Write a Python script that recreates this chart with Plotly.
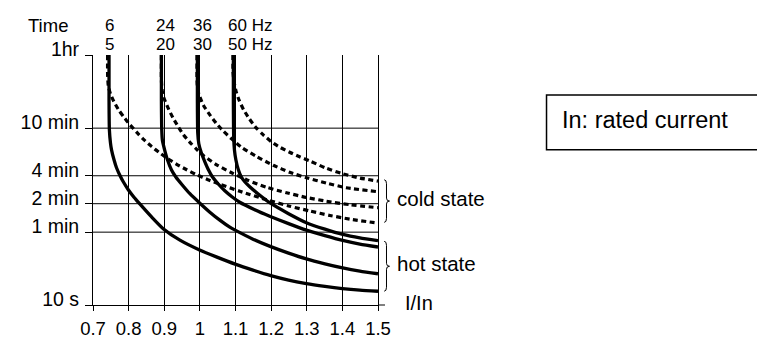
import plotly.graph_objects as go

# ---------------- data ----------------
X_TICKS = [0.7, 0.8, 0.9, 1.0, 1.1, 1.2, 1.3, 1.4, 1.5]
X_TICK_TEXT = ["0.7", "0.8", "0.9", "1", "1.1", "1.2", "1.3", "1.4", "1.5"]
# y axis is a schematic (non-uniform) time scale; values are chart positions
Y_TICKS = [0, 73, 101.5, 129.5, 177.2, 250.5]
Y_TICK_TEXT = ["10 s", "1 min", "2 min", "4 min", "10 min", "1hr"]

FREQ_60HZ = ["6", "24", "36", "60 Hz"]
FREQ_50HZ = ["5", "20", "30", "50 Hz"]

# hot state (solid) curves
HOT_5HZ_X = [0.745, 0.745, 0.746, 0.749, 0.752, 0.759, 0.766, 0.776, 0.785, 0.799, 0.815, 0.832,
             0.865, 0.897, 0.944, 0.999, 1.048, 1.099, 1.149, 1.199, 1.249, 1.299, 1.351, 1.400, 1.449, 1.5]
HOT_5HZ_Y = [250.5, 205.5, 175.5, 162.5, 155.5, 145.5, 137.5, 129.5, 123.5, 115.5, 108.0, 101.0,
             88.0, 76.5, 65.0, 55.2, 48.0, 41.0, 35.0, 29.5, 25.0, 21.5, 18.7, 16.5, 14.9, 13.8]

HOT_20HZ_X = [0.892, 0.892, 0.893, 0.895, 0.901, 0.909, 0.920, 0.933, 0.950, 0.972, 1.000, 1.028,
              1.056, 1.084, 1.099, 1.149, 1.199, 1.249, 1.299, 1.351, 1.401, 1.449, 1.5]
HOT_20HZ_Y = [250.5, 205.5, 175.5, 164.5, 155.5, 145.5, 135.5, 128.0, 120.5, 111.5, 102.0, 93.0,
              85.0, 78.0, 75.0, 66.0, 58.5, 52.0, 46.2, 41.3, 37.2, 34.0, 31.3]

HOT_30HZ_X = [0.993, 0.993, 0.994, 0.997, 1.004, 1.014, 1.024, 1.035, 1.051, 1.070, 1.090, 1.112,
              1.154, 1.196, 1.249, 1.299, 1.351, 1.401, 1.449, 1.5]
HOT_30HZ_Y = [250.5, 205.5, 172.5, 161.5, 152.5, 143.5, 135.5, 128.5, 121.5, 114.5, 108.5, 103.0,
              95.5, 89.0, 81.5, 75.0, 69.5, 64.7, 61.0, 58.1]

HOT_50HZ_X = [1.094, 1.094, 1.095, 1.097, 1.101, 1.108, 1.116, 1.126, 1.140, 1.163, 1.196, 1.249,
              1.299, 1.351, 1.401, 1.449, 1.5]
HOT_50HZ_Y = [250.5, 205.5, 167.5, 155.5, 145.5, 135.5, 128.5, 123.5, 118.5, 111.5, 102.5, 91.5,
              82.5, 76.0, 70.7, 67.2, 64.5]

# cold state (dotted) curves
COLD_5HZ_X = [0.741, 0.741, 0.743, 0.749, 0.759, 0.772, 0.786, 0.804, 0.823, 0.841, 0.865, 0.888,
              0.911, 0.935, 0.963, 0.991, 1.023, 1.056, 1.112, 1.187, 1.252, 1.309, 1.365, 1.421, 1.5]
COLD_5HZ_Y = [250.5, 230.5, 219.5, 211.5, 203.5, 195.5, 188.5, 180.5, 173.0, 166.2, 158.7, 152.2,
              146.3, 141.0, 135.5, 130.5, 125.5, 121.0, 114.0, 105.5, 99.0, 94.2, 89.7, 86.0, 82.0]

COLD_20HZ_X = [0.892, 0.892, 0.894, 0.898, 0.911, 0.925, 0.939, 0.953, 0.972, 0.991, 1.009, 1.047,
               1.089, 1.131, 1.187, 1.243, 1.299, 1.355, 1.421, 1.5]
COLD_20HZ_Y = [250.5, 225.5, 215.5, 208.5, 197.2, 187.2, 178.8, 171.0, 163.0, 156.0, 150.0, 140.5,
               132.5, 125.5, 118.0, 112.5, 107.7, 104.0, 100.5, 97.5]

COLD_30HZ_X = [0.992, 0.992, 0.994, 1.000, 1.011, 1.028, 1.045, 1.065, 1.089, 1.117, 1.159, 1.206,
               1.252, 1.299, 1.355, 1.411, 1.5]
COLD_30HZ_Y = [250.5, 225.5, 215.5, 208.5, 199.5, 190.5, 182.5, 174.5, 166.5, 158.0, 148.8, 140.0,
               133.0, 127.5, 122.2, 117.5, 113.5]

COLD_50HZ_X = [1.093, 1.093, 1.096, 1.102, 1.111, 1.123, 1.139, 1.158, 1.178, 1.201, 1.224, 1.252,
               1.280, 1.309, 1.355, 1.401, 1.449, 1.5]
COLD_50HZ_Y = [250.5, 233.5, 223.5, 213.5, 204.5, 195.5, 186.5, 177.5, 170.5, 163.5, 158.2, 153.0,
               148.5, 144.3, 137.0, 131.5, 127.2, 124.2]

# ---------------- layout geometry (pixels) ----------------
W, H = 757, 339
ML, MT = 93, 55
PW, PH = 285.3, 250.5
MR = W - ML - PW
MB = H - MT - PH
FONT = "Liberation Sans, Arial, sans-serif"


def px(xp):
    return (xp - ML) / PW


def py(yp):
    return (MT + PH - yp) / PH


fig = go.Figure()

hot = [(HOT_5HZ_X, HOT_5HZ_Y), (HOT_20HZ_X, HOT_20HZ_Y), (HOT_30HZ_X, HOT_30HZ_Y), (HOT_50HZ_X, HOT_50HZ_Y)]
cold = [(COLD_5HZ_X, COLD_5HZ_Y), (COLD_20HZ_X, COLD_20HZ_Y), (COLD_30HZ_X, COLD_30HZ_Y), (COLD_50HZ_X, COLD_50HZ_Y)]

for xs, ys in cold:
    fig.add_trace(go.Scatter(x=xs, y=ys, mode="lines", hoverinfo="skip",
                             line=dict(color="black", width=3.2, dash="5px,3.5px", shape="spline", smoothing=0.6)))
for xs, ys in hot:
    fig.add_trace(go.Scatter(x=xs, y=ys, mode="lines", hoverinfo="skip",
                             line=dict(color="black", width=3.3, shape="spline", smoothing=0.6)))

shapes = []
# horizontal grid lines (not at the top)
for v in Y_TICKS[1:-1]:
    shapes.append(dict(type="line", xref="x", yref="y", x0=X_TICKS[0], x1=X_TICKS[-1], y0=v, y1=v,
                       line=dict(color="black", width=1), layer="below"))
# extension of bottom axis line past 1.5
shapes.append(dict(type="line", xref="paper", yref="paper", x0=1, x1=px(ML + PW + 7), y0=0, y1=0,
                   line=dict(color="black", width=1)))


def brace(top, bot, xl, xs, xt):
    mid = (top + bot) / 2
    return ("M {a},{b} Q {c},{b} {c},{d} L {c},{e} Q {c},{f} {g},{f} "
            "Q {c},{f} {c},{h} L {c},{i} Q {c},{j} {a},{j}").format(
        a=px(xl), b=py(top), c=px(xs), d=py(top + 4), e=py(mid - 3), f=py(mid),
        g=px(xt), h=py(mid + 3), i=py(bot - 4), j=py(bot))


shapes.append(dict(type="path", xref="paper", yref="paper", path=brace(180, 222.7, 384.5, 386.8, 389.8),
                   line=dict(color="black", width=1)))
shapes.append(dict(type="path", xref="paper", yref="paper", path=brace(241.7, 291.7, 384.5, 386.8, 389.8),
                   line=dict(color="black", width=1)))
# legend box
shapes.append(dict(type="rect", xref="paper", yref="paper", x0=px(547), x1=px(800), y0=py(150), y1=py(95),
                   line=dict(color="black", width=1.5), fillcolor="rgba(0,0,0,0)"))

annotations = []
TOP_ROW, BOT_ROW = 25.4, 44.6
annotations.append(dict(text="Time", xref="paper", yref="paper", x=px(69), y=py(TOP_ROW), xanchor="right",
                        yanchor="middle", showarrow=False, borderpad=0, font=dict(size=18.5)))
freq_anchor_x = [0.745, 0.904, 1.006, 1.075]
freq_anchor = ["center", "center", "center", "left"]
for t60, t50, xv, xa in zip(FREQ_60HZ, FREQ_50HZ, freq_anchor_x, freq_anchor):
    annotations.append(dict(text=t60, xref="x", yref="paper", x=xv, y=py(TOP_ROW), xanchor=xa, yanchor="middle",
                            showarrow=False, borderpad=0, font=dict(size=17)))
    annotations.append(dict(text=t50, xref="x", yref="paper", x=xv, y=py(BOT_ROW), xanchor=xa, yanchor="middle",
                            showarrow=False, borderpad=0, font=dict(size=17)))
annotations.append(dict(text="cold state", xref="paper", yref="paper", x=px(395.5), y=py(199), xanchor="left",
                        yanchor="middle", showarrow=False, font=dict(size=20.5)))
annotations.append(dict(text="hot state", xref="paper", yref="paper", x=px(395.5), y=py(264), xanchor="left",
                        yanchor="middle", showarrow=False, font=dict(size=20.5)))
annotations.append(dict(text="I/In", xref="paper", yref="paper", x=px(403.5), y=py(303), xanchor="left",
                        yanchor="middle", showarrow=False, font=dict(size=20)))
annotations.append(dict(text="In: rated current", xref="paper", yref="paper", x=px(560), y=py(120.5),
                        xanchor="left", yanchor="middle", showarrow=False, font=dict(size=23.5)))

fig.update_layout(
    width=W, height=H,
    margin=dict(l=ML, r=MR, t=MT, b=MB, autoexpand=False),
    paper_bgcolor="white", plot_bgcolor="white",
    showlegend=False,
    font=dict(family=FONT, color="black"),
    shapes=shapes, annotations=annotations,
    xaxis=dict(range=[X_TICKS[0], X_TICKS[-1]], tickmode="array", tickvals=X_TICKS, ticktext=X_TICK_TEXT,
               showgrid=True, gridcolor="black", gridwidth=1, zeroline=False,
               showline=True, linecolor="black", linewidth=1,
               ticks="outside", ticklen=5, tickcolor="black", tickwidth=1, ticklabelstandoff=2,
               tickfont=dict(size=18.5, color="black", family=FONT)),
    yaxis=dict(range=[Y_TICKS[0], Y_TICKS[-1]], tickmode="array", tickvals=Y_TICKS, ticktext=Y_TICK_TEXT,
               showgrid=False, zeroline=False,
               showline=True, mirror=True, linecolor="black", linewidth=1,
               ticks="outside", ticklen=7, tickcolor="black", tickwidth=1,
               ticklabelshift=-6, ticklabelstandoff=2,
               tickfont=dict(size=19.5, color="black", family=FONT)),
)

fig.write_html("out.html", config={"displayModeBar": False},
               post_script="document.body.style.margin='0px';")
